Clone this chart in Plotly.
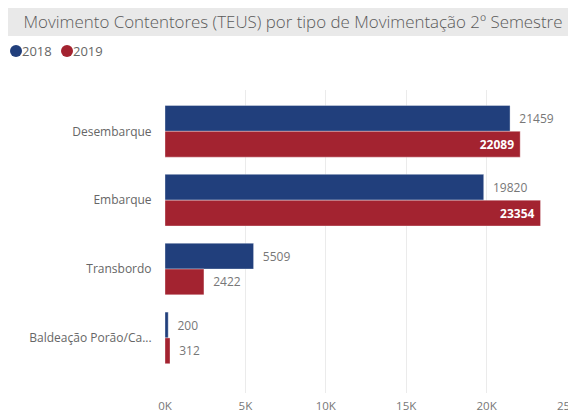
import plotly.graph_objects as go

categories = ["Desembarque", "Embarque", "Transbordo", "Baldeação Porão/Ca..."]
values_2018 = [21459, 19820, 5509, 200]
values_2019 = [22089, 23354, 2422, 312]
pos_2019 = ["inside", "inside", "outside", "outside"]
tick_vals = [0, 5000, 10000, 15000, 20000, 25000]
tick_text = ["0K", "5K", "10K", "15K", "20K", "25K"]
series_names = ["2018", "2019"]

blue = "#213F7C"
red = "#A32330"
FONT = "Open Sans"

# page body has an 8px default margin: size the figure so it fills the window
OFF = 8
W, H = 576 - OFF, 412 - OFF
L, T = 165 - OFF, 90 - OFF
R = W - (567 - OFF)
B = H - (393 - OFF)
ph = H - T - B
pw = W - L - R

def wy(py):  # window pixel y -> paper y
    return (H - B - (py - OFF)) / ph

def wx(px):  # window pixel x -> paper x
    return ((px - OFF) - L) / pw

fig = go.Figure()

fig.add_trace(go.Bar(
    y=categories, x=values_2018, orientation="h", name=series_names[0],
    marker=dict(color=blue, line=dict(color="rgba(255,255,255,0.35)", width=1)),
    text=["  " + str(v) for v in values_2018], textposition="outside",
    textfont=dict(color="#777777", size=12, family=FONT),
    cliponaxis=False, showlegend=False,
))
fig.add_trace(go.Bar(
    y=categories, x=values_2019, orientation="h", name=series_names[1],
    marker=dict(color=red, line=dict(color="rgba(255,255,255,0.35)", width=1)),
    text=[(("<b>" + str(v) + "</b> ") if p == "inside" else ("  " + str(v)))
          for v, p in zip(values_2019, pos_2019)],
    textposition=pos_2019,
    insidetextanchor="end",
    insidetextfont=dict(color="white", size=12, family=FONT),
    outsidetextfont=dict(color="#777777", size=12, family=FONT),
    cliponaxis=False, showlegend=False,
))

# title background band
fig.add_shape(type="rect", xref="paper", yref="paper",
              x0=wx(0), x1=wx(584), y0=wy(36), y1=wy(0),
              fillcolor="#E9E9E9", line=dict(width=0), layer="below")

# legend: coloured dots + labels
legend_dot_x = [16, 67]
for name, col, dx in zip(series_names, [blue, red], legend_dot_x):
    fig.add_shape(type="circle", xref="paper", yref="paper",
                  x0=wx(dx - 6), x1=wx(dx + 6), y0=wy(51 + 6), y1=wy(51 - 6),
                  fillcolor=col, line=dict(width=0))
    fig.add_annotation(text=name, xref="paper", yref="paper",
                       x=wx(dx + 6), y=wy(51), xanchor="left", yanchor="middle",
                       showarrow=False, borderpad=0, xshift=-1,
                       font=dict(size=13, color="#666666", family=FONT))

fig.update_layout(
    width=W, height=H,
    margin=dict(l=L, r=R, t=T, b=B, autoexpand=False),
    paper_bgcolor="white", plot_bgcolor="white",
    barmode="group", bargap=0.25, bargroupgap=0,
    showlegend=False,
    font=dict(family=FONT, color="#666666"),
    title=dict(text="Movimento Contentores (TEUS) por tipo de Movimentação 2º Semestre",
               xref="container", x=(293 - OFF) / W, xanchor="center",
               yref="container", y=1 - (22 - OFF) / H, yanchor="middle",
               font=dict(size=16.9, color="#5A5A5A", family=FONT, weight=300)),
    xaxis=dict(range=[0, 25000], tickvals=tick_vals, ticktext=tick_text,
               showgrid=True, gridcolor="#EBEBEB", gridwidth=1, zeroline=False,
               showline=False, ticks="outside", ticklen=2, tickcolor="rgba(0,0,0,0)",
               tickfont=dict(size=11.5, color="#777777", family=FONT), fixedrange=True,
               automargin=False, ticklabeloverflow="allow"),
    yaxis=dict(type="category", range=[3.8, -0.6], showgrid=False, zeroline=False,
               showline=False, ticks="outside", ticklen=10, tickcolor="rgba(0,0,0,0)",
               tickfont=dict(size=12, color="#666666", family=FONT), automargin=False),
)

fig.write_html("out.html")
